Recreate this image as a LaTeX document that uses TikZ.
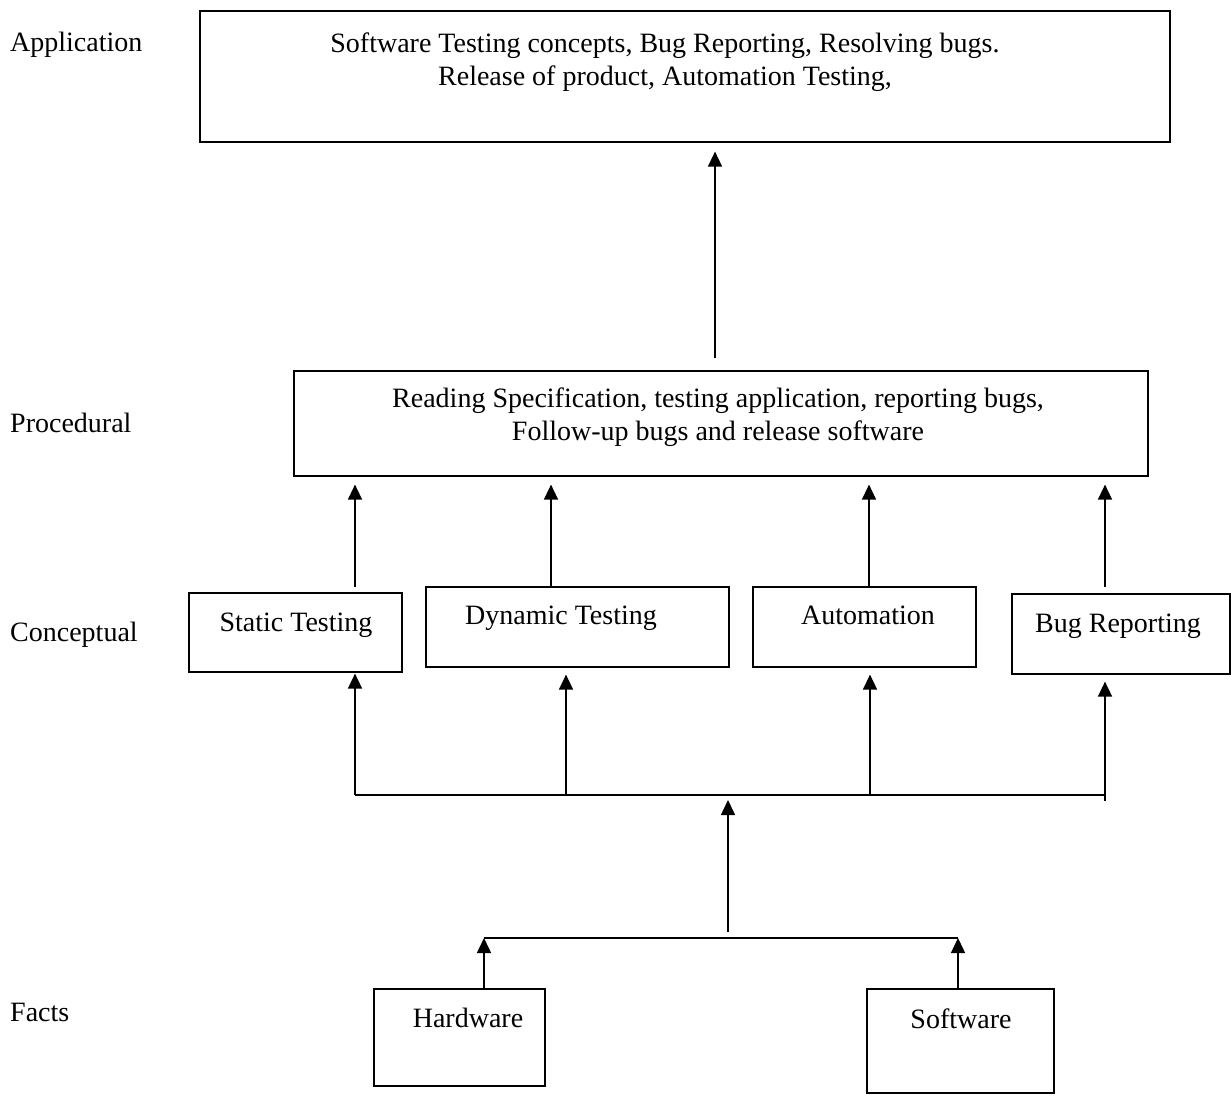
\documentclass[tikz,border=0pt]{standalone}
\usepackage{fontspec}
\setmainfont{Liberation Serif}
\usetikzlibrary{arrows.meta}
\begin{document}
\begin{tikzpicture}[x=1pt,y=-1pt,
  box/.style={draw, line width=1.6pt, inner sep=0pt, anchor=north west},
  txt/.style={font=\fontsize{28}{33}\selectfont, inner sep=0pt, align=center},
  arr/.style={line width=1.5pt, -{Triangle[length=15pt,width=14pt]}},
  ln/.style={line width=1.6pt}]
\useasboundingbox[fill=white] (0,0) rectangle (1231,1097);

% level labels
\node[txt, anchor=base west] (lApp) at (10,52) {Application};
\node[txt, anchor=base west] (lProc) at (10,432) {Procedural};
\node[txt, anchor=base west] (lConc) at (10,641) {Conceptual};
\node[txt, anchor=base west] (lFact) at (10,1021) {Facts};

% boxes
\node[box, minimum width=970pt, minimum height=131pt] (app) at (199,10) {};
\node[box, minimum width=854pt, minimum height=105pt] (proc) at (293,370) {};
\node[box, minimum width=213pt, minimum height=79pt] (stat) at (188,592) {};
\node[box, minimum width=303pt, minimum height=80pt] (dyn) at (425,586) {};
\node[box, minimum width=223pt, minimum height=80pt] (auto) at (752,586) {};
\node[box, minimum width=218pt, minimum height=80pt] (bug) at (1011,593) {};
\node[box, minimum width=171pt, minimum height=97pt] (hw) at (373,988) {};
\node[box, minimum width=187pt, minimum height=104pt] (sw) at (866,988) {};

% texts
\node[txt, anchor=north] (appT) at (665,33) {Software Testing concepts, Bug Reporting, Resolving bugs.\\Release of product, Automation Testing,};
\node[txt, anchor=north] (procT) at (718,388) {Reading Specification, testing application, reporting bugs,\\Follow-up bugs and release software};
\node[txt, anchor=base] (statT) at (296,631) {Static Testing};
\node[txt, anchor=base] (dynT) at (561,624) {Dynamic Testing};
\node[txt, anchor=base] (autoT) at (868,624) {Automation};
\node[txt, anchor=base] (bugT) at (1118,632) {Bug Reporting};
\node[txt, anchor=base] (hwT) at (468,1027) {Hardware};
\node[txt, anchor=base] (swT) at (961,1028) {Software};

% coordinates
\coordinate (xa) at (715,0);
\coordinate (x1) at (355,0);
\coordinate (x2) at (551,0);
\coordinate (x3) at (869,0);
\coordinate (x4) at (1105,0);
\coordinate (busL) at (355,795);
\coordinate (busR) at (1105,795);
\coordinate (b2) at (566,795);
\coordinate (b3) at (870,795);
\coordinate (b4) at (1105,801);
\coordinate (mid) at (728,932);
\coordinate (midTop) at (728,800);
\coordinate (lowL) at (484,938);
\coordinate (lowR) at (958,938);

% procedural -> application
\draw[arr, shorten <=12pt, shorten >=9pt] (proc.north -| xa) -- (app.south -| xa);
% conceptual -> procedural
\draw[arr, shorten <=5pt, shorten >=8pt] (stat.north -| x1) -- (proc.south -| x1);
\draw[arr, shorten <=0pt, shorten >=8pt] (dyn.north -| x2) -- (proc.south -| x2);
\draw[arr, shorten <=0pt, shorten >=8pt] (auto.north -| x3) -- (proc.south -| x3);
\draw[arr, shorten <=6pt, shorten >=8pt] (bug.north -| x4) -- (proc.south -| x4);
% bus -> conceptual
\draw[ln] (busL) -- (busR);
\draw[arr, shorten >=1pt] (busL) -- (stat.south -| busL);
\draw[arr, shorten >=7pt] (b2) -- (dyn.south -| b2);
\draw[arr, shorten >=7pt] (b3) -- (auto.south -| b3);
\draw[arr, shorten >=7pt] (b4) -- (bug.south -| b4);
% facts -> bus
\draw[arr] (mid) -- (midTop);
\draw[ln] (lowL) -- (lowR);
\draw[arr] (hw.north -| lowL) -- (lowL);
\draw[arr] (sw.north -| lowR) -- (lowR);
\end{tikzpicture}
\end{document}
